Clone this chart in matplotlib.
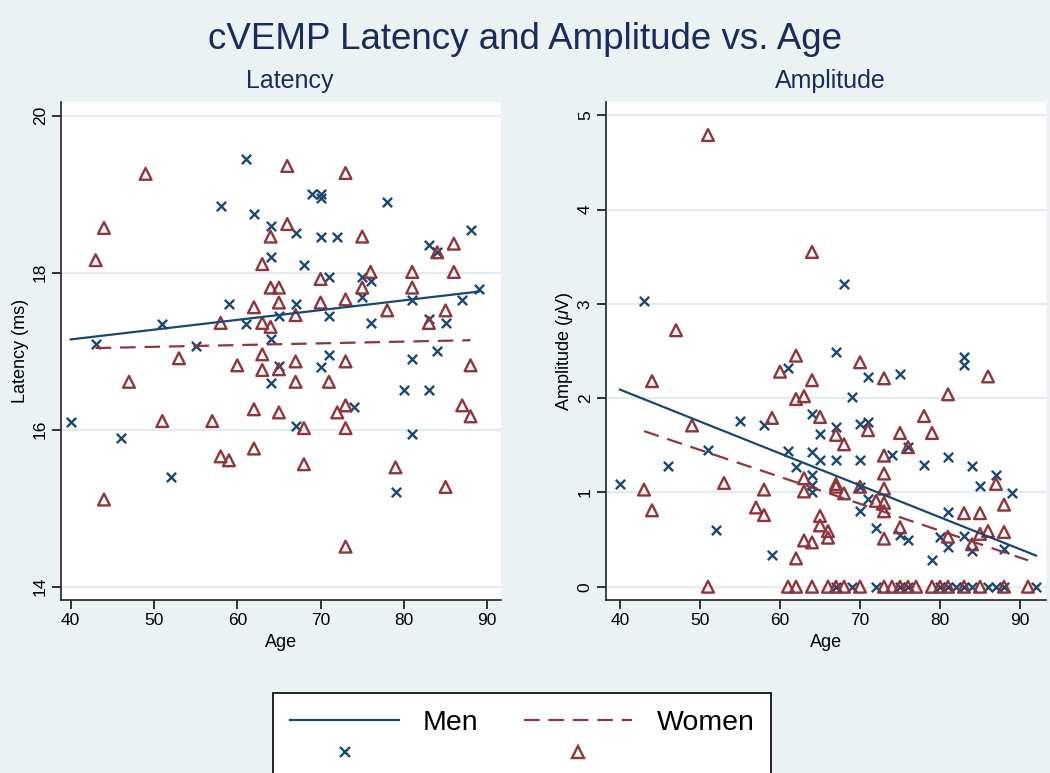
import matplotlib
matplotlib.use("Agg")
from matplotlib import pyplot as plt
from matplotlib.lines import Line2D

plt.rcParams['font.family'] = ['Liberation Sans', 'DejaVu Sans']
plt.rcParams['mathtext.fontset'] = 'custom'
plt.rcParams['mathtext.rm'] = 'Liberation Sans'
plt.rcParams['mathtext.it'] = 'Liberation Sans:italic'

# --- latency data (age, ms) ---
men_lat_age = [61, 58, 62, 64, 67, 64, 59, 67, 51, 61, 65, 43, 55, 64,
               69, 70, 70, 78, 70, 72, 88, 83, 84, 68, 71, 75, 76, 75, 71, 81, 87, 89, 76, 83, 85, 84,
               65, 64, 40, 67, 46, 52,
               71, 70, 81, 80, 83, 74, 81, 79]
men_lat = [19.45, 18.85, 18.75, 18.6, 18.5, 18.2, 17.6, 17.6, 17.35, 17.35, 17.45, 17.09, 17.06, 17.15,
           19.0, 19.0, 18.95, 18.9, 18.45, 18.45, 18.54, 18.35, 18.27, 18.1, 17.95, 17.95, 17.9, 17.69,
           17.45, 17.65, 17.65, 17.79, 17.36, 17.41, 17.36, 17.0,
           16.81, 16.6, 16.1, 16.05, 15.9, 15.4,
           16.95, 16.8, 16.9, 16.5, 16.5, 16.29, 15.95, 15.2]

women_lat_age = [66, 49, 66, 44, 64, 43, 63, 64, 65, 62, 65, 58, 63, 64, 67,
                 73, 75, 84, 86, 70, 76, 81, 86, 75, 81, 70, 73, 78, 83, 85,
                 53, 60, 63, 63, 65, 67, 47, 67, 62, 65, 51, 57, 62, 58, 59, 44,
                 73, 88, 71, 73, 72, 87, 88, 68, 73, 68, 79, 85, 73]
women_lat = [19.36, 19.26, 18.62, 18.57, 18.46, 18.16, 18.11, 17.81, 17.81, 17.56, 17.62, 17.36, 17.36, 17.31, 17.46,
             19.27, 18.46, 18.26, 18.37, 17.92, 18.01, 18.01, 18.01, 17.81, 17.81, 17.62, 17.66, 17.52, 17.36, 17.52,
             16.91, 16.82, 16.96, 16.76, 16.77, 16.87, 16.61, 16.61, 16.26, 16.22, 16.11, 16.11, 15.76, 15.66, 15.61, 15.11,
             16.87, 16.82, 16.61, 16.31, 16.22, 16.31, 16.17, 16.02, 16.02, 15.56, 15.52, 15.27, 14.51]

# --- amplitude data (age, uV) ---
men_amp_age = [43, 68, 67, 61, 71, 75, 83, 83, 69, 64, 70, 71, 67, 65, 55, 58, 76, 74, 51, 61,
               64, 65, 67, 70, 81, 78, 84, 46, 62, 87, 64, 40, 64, 64, 70, 85, 89, 71, 70, 81,
               72, 52, 75, 76, 80, 83, 81, 84, 88, 59, 79,
               67, 69, 72, 75, 76, 80, 81, 82, 83, 84, 86, 87, 88, 92]
men_amp = [3.03, 3.21, 2.49, 2.32, 2.22, 2.26, 2.44, 2.35, 2.01, 1.83, 1.73, 1.75, 1.69, 1.62, 1.76, 1.72,
           1.48, 1.40, 1.45, 1.44, 1.43, 1.34, 1.34, 1.34, 1.38, 1.29, 1.28, 1.28, 1.27, 1.18, 1.18, 1.09,
           1.08, 1.00, 1.06, 1.07, 0.99, 0.93, 0.80, 0.79, 0.62, 0.60, 0.55, 0.49, 0.53, 0.54, 0.42, 0.38,
           0.40, 0.34, 0.28,
           0, 0, 0, 0, 0, 0, 0, 0, 0, 0, 0, 0, 0, 0]

women_amp_age = [51, 64, 47, 62, 60, 44, 64, 70, 73, 86, 62, 63, 81, 65, 59, 78, 49, 67, 71, 75,
                 79, 68, 76, 73, 73, 63, 53, 43, 58, 63, 67, 67, 70, 73, 68, 87, 72, 73, 88, 44,
                 57, 58, 73, 83, 85, 65, 65, 66, 66, 75, 86, 88, 63, 64, 73, 81, 85, 84, 62,
                 51, 61, 62, 64, 66, 67, 68, 70, 73, 74, 75, 76, 77, 79, 80, 81, 83, 85, 88, 91]
women_amp = [4.79, 3.55, 2.72, 2.45, 2.28, 2.18, 2.19, 2.38, 2.21, 2.23, 1.99, 2.02, 2.04, 1.80, 1.79,
             1.81, 1.71, 1.61, 1.66, 1.63, 1.63, 1.51, 1.48, 1.39, 1.20, 1.15, 1.10, 1.03, 1.03, 1.01,
             1.09, 1.06, 1.06, 1.04, 0.99, 1.09, 0.91, 0.89, 0.87, 0.81, 0.84, 0.76, 0.80, 0.78, 0.78,
             0.75, 0.65, 0.59, 0.52, 0.63, 0.59, 0.58, 0.49, 0.47, 0.51, 0.53, 0.56, 0.45, 0.30,
             0, 0, 0, 0, 0, 0, 0, 0, 0, 0, 0, 0, 0, 0, 0, 0, 0, 0, 0, 0]

# fitted lines (endpoints)
men_lat_fit_age, men_lat_fit = [40, 89], [17.15, 17.76]
women_lat_fit_age, women_lat_fit = [43, 88], [17.04, 17.14]
men_amp_fit_age, men_amp_fit = [40, 92], [2.09, 0.33]
women_amp_fit_age, women_amp_fit = [43, 91], [1.65, 0.28]

bg = '#EAF2F3'
navy = '#1A476F'
maroon = '#90353B'
title_col = '#1A2B5C'
dash = (0, (7, 4))

fig = plt.figure(figsize=(10.5, 7.73), dpi=100, facecolor=bg)
W, H = 1050, 773
ax1 = fig.add_axes([61 / W, 1 - 600 / H, 440 / W, 498 / H])
ax2 = fig.add_axes([606 / W, 1 - 600 / H, 440 / W, 498 / H])


def style(ax):
    ax.set_facecolor('white')
    for s in ['top', 'right']:
        ax.spines[s].set_visible(False)
    for s in ['left', 'bottom']:
        ax.spines[s].set_linewidth(1.2)
        ax.spines[s].set_color('#222222')
    ax.tick_params(direction='out', length=6.5, width=1.1, labelsize=12.5, pad=3)
    ax.grid(axis='y', color='#E3EDEF', linewidth=1.6)
    ax.set_axisbelow(True)
    for lab in ax.get_yticklabels():
        lab.set_rotation(90)
        lab.set_va('center')


# latency panel
ax1.scatter(men_lat_age, men_lat, marker='x', s=45, color=navy, linewidths=1.7, zorder=3)
ax1.scatter(women_lat_age, women_lat, marker='^', s=72, facecolors='none', edgecolors=maroon,
            linewidths=1.7, zorder=3)
ax1.plot(men_lat_fit_age, men_lat_fit, color=navy, lw=1.6, zorder=4)
ax1.plot(women_lat_fit_age, women_lat_fit, color=maroon, lw=1.6, linestyle=dash, zorder=4)
ax1.set_xlim(38.84, 91.66)
ax1.set_ylim(13.83, 20.175)
ax1.set_xticks([40, 50, 60, 70, 80, 90])
ax1.set_yticks([14, 16, 18, 20])
ax1.set_xlabel('Age', fontsize=13)
ax1.set_ylabel('Latency (ms)', fontsize=13, labelpad=3)
ax1.set_title('Latency', fontsize=18, color=title_col, pad=10, x=0.52)
style(ax1)

# amplitude panel
ax2.scatter(men_amp_age, men_amp, marker='x', s=45, color=navy, linewidths=1.7, zorder=3)
ax2.scatter(women_amp_age, women_amp, marker='^', s=72, facecolors='none', edgecolors=maroon,
            linewidths=1.7, zorder=3)
ax2.plot(men_amp_fit_age, men_amp_fit, color=navy, lw=1.6, zorder=4)
ax2.plot(women_amp_fit_age, women_amp_fit, color=maroon, lw=1.6, linestyle=dash, zorder=4)
ax2.set_xlim(38.25, 93.25)
ax2.set_ylim(-0.141, 5.14)
ax2.set_xticks([40, 50, 60, 70, 80, 90])
ax2.set_yticks([0, 1, 2, 3, 4, 5])
ax2.set_xlabel('Age', fontsize=13)
ax2.set_ylabel(r'Amplitude ($\mu$V)', fontsize=13, labelpad=2)
ax2.set_title('Amplitude', fontsize=18, color=title_col, pad=10, x=0.51)
style(ax2)

fig.suptitle('cVEMP Latency and Amplitude vs. Age', fontsize=26.5, color=title_col, y=0.972)

handles = [Line2D([], [], color=navy, lw=1.6),
           Line2D([], [], color=navy, marker='x', ls='none', ms=6.5, mew=1.7),
           Line2D([], [], color=maroon, lw=1.6, linestyle=dash),
           Line2D([], [], color=maroon, marker='^', ls='none', ms=8.5, mfc='none', mew=1.7)]
labels = ['Men', ' ', 'Women', ' ']
leg = fig.legend(handles, labels, ncol=2, loc='upper center', bbox_to_anchor=(0.4975, 1 - 693 / H),
                 borderaxespad=0, fontsize=20.5, handlelength=3.8, handletextpad=0.85,
                 columnspacing=1.6, frameon=True, fancybox=False, edgecolor='black',
                 facecolor='white', framealpha=1, borderpad=0.6, labelspacing=0.2)
leg.get_frame().set_linewidth(1.2)

fig.savefig('out.png', dpi=100, facecolor=bg)
